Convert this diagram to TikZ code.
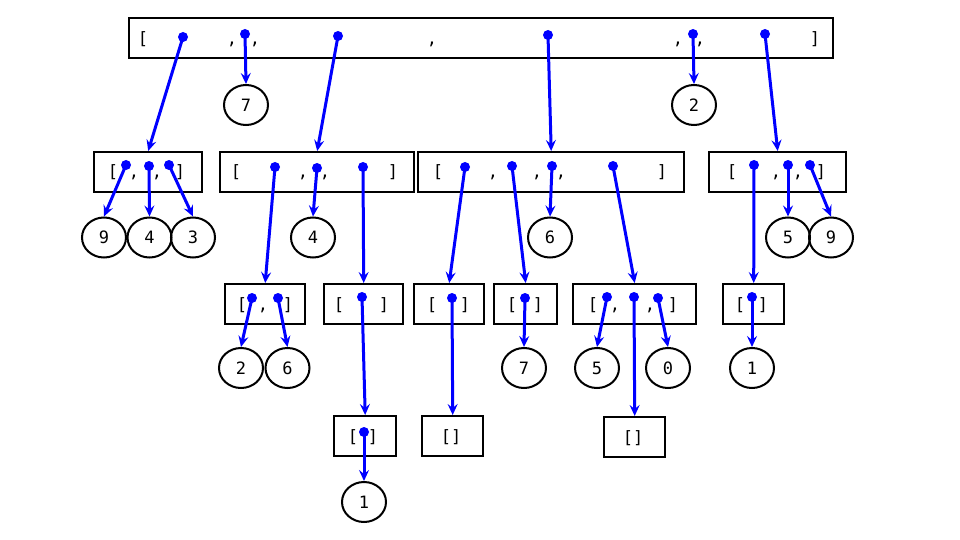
\documentclass[tikz,border=0pt]{standalone}
\usepackage{fontspec}
\setmonofont{DejaVu Sans Mono}
\usetikzlibrary{arrows.meta,shapes.geometric}
\begin{document}
\begin{tikzpicture}[x=1pt,y=-1pt,
  every node/.style={font=\ttfamily\fontsize{17}{20}\selectfont},
  cell/.style={draw=black,line width=2.4pt,inner sep=0pt,anchor=north west},
  glyph/.style={anchor=base,inner sep=0pt},
  leaf/.style={ellipse,draw=black,line width=2pt,inner sep=0pt,minimum width=44pt,minimum height=40pt},
  dot/.style={circle,fill=blue,inner sep=0pt,minimum size=10pt},
  ptr/.style={draw=blue,line width=3pt,-{Stealth[length=11pt,width=10pt,inset=4pt]}}]
\useasboundingbox (0,0) rectangle (960,540);

% ---------- outer list ----------
\node[cell,minimum width=704pt,minimum height=40pt] (top) at (128,17) {};
\node[glyph] (t0) at (143,45) {[};
\node[glyph] (t1) at (232,45) {,};
\node[glyph] (t2) at (255,45) {,};
\node[glyph] (t3) at (432,45) {,};
\node[glyph] (t4) at (678,45) {,};
\node[glyph] (t5) at (700,45) {,};
\node[glyph] (t6) at (815,45) {]};
\node[dot] (pa) at (183,37) {};
\node[dot] (pb) at (245,34) {};
\node[dot] (pc) at (338,36) {};
\node[dot] (pd) at (548,35) {};
\node[dot] (pe) at (693,34) {};
\node[dot] (pf) at (765,34) {};

\node[leaf] (v7) at (246,105) {7};
\node[leaf] (v2) at (694,105) {2};

% ---------- second level ----------
\node[cell,minimum width=108pt,minimum height=40pt] (A) at (93,151) {};
\node[glyph] at (113,178) {[};
\node[glyph] at (134,178) {,};
\node[glyph] at (157,178) {,};
\node[glyph] at (180,178) {]};
\node[dot] (a1) at (126,165) {};
\node[dot] (a2) at (149,166) {};
\node[dot] (a3) at (169,165) {};

\node[cell,minimum width=194pt,minimum height=40pt] (B) at (219,151) {};
\node[glyph] at (236,178) {[};
\node[glyph] at (303,178) {,};
\node[glyph] at (325,178) {,};
\node[glyph] at (393,178) {]};
\node[dot] (b1) at (275,167) {};
\node[dot] (b2) at (317,168) {};
\node[dot] (b3) at (363,167) {};

\node[cell,minimum width=266pt,minimum height=40pt] (C) at (417,151) {};
\node[glyph] at (438,178) {[};
\node[glyph] at (493,178) {,};
\node[glyph] at (537,178) {,};
\node[glyph] at (561,178) {,};
\node[glyph] at (662,178) {]};
\node[dot] (c1) at (465,167) {};
\node[dot] (c2) at (512,166) {};
\node[dot] (c3) at (552,166) {};
\node[dot] (c4) at (613,166) {};

\node[cell,minimum width=137pt,minimum height=40pt] (D) at (708,151) {};
\node[glyph] at (732,178) {[};
\node[glyph] at (776,178) {,};
\node[glyph] at (798,178) {,};
\node[glyph] at (821,178) {]};
\node[dot] (d1) at (754,165) {};
\node[dot] (d2) at (788,165) {};
\node[dot] (d3) at (810,165) {};

\node[leaf] (v9a) at (104,237.5) {9};
\node[leaf] (v4a) at (149.5,237.5) {4};
\node[leaf] (v3) at (193,237.5) {3};
\node[leaf] (v4b) at (313,237.5) {4};
\node[leaf] (v6a) at (550,237.5) {6};
\node[leaf] (v5a) at (788,237.5) {5};
\node[leaf] (v9b) at (831,237.5) {9};

% ---------- third level ----------
\node[cell,minimum width=80pt,minimum height=40pt] (E) at (224,283) {};
\node[glyph] at (242,310) {[};
\node[glyph] at (263,310) {,};
\node[glyph] at (288,310) {]};
\node[dot] (e1) at (252,298) {};
\node[dot] (e2) at (278,298) {};

\node[cell,minimum width=79pt,minimum height=40pt] (F) at (323,283) {};
\node[glyph] at (339,310) {[};
\node[glyph] at (384,310) {]};
\node[dot] (f1) at (362,297) {};

\node[cell,minimum width=70pt,minimum height=40pt] (G) at (413,283) {};
\node[glyph] at (432,310) {[};
\node[glyph] at (465,310) {]};
\node[dot] (g1) at (452,298) {};

\node[cell,minimum width=63pt,minimum height=40pt] (H) at (493,283) {};
\node[glyph] at (512,310) {[};
\node[glyph] at (538,310) {]};
\node[dot] (h1) at (525,298) {};

\node[cell,minimum width=123pt,minimum height=40pt] (K) at (572,283) {};
\node[glyph] at (593,310) {[};
\node[glyph] at (615,310) {,};
\node[glyph] at (650,310) {,};
\node[glyph] at (673,310) {]};
\node[dot] (k1) at (607,297) {};
\node[dot] (k2) at (634,297) {};
\node[dot] (k3) at (658,298) {};

\node[cell,minimum width=61pt,minimum height=40pt] (L) at (722,283) {};
\node[glyph] at (740,310) {[};
\node[glyph] at (763,310) {]};
\node[dot] (l1) at (752,297) {};

\node[leaf] (v2b) at (241,368) {2};
\node[leaf] (v6b) at (287.5,368) {6};
\node[leaf] (v7b) at (524,368) {7};
\node[leaf] (v5b) at (597,368) {5};
\node[leaf] (v0) at (668,368) {0};
\node[leaf] (v1a) at (752,368) {1};

% ---------- fourth level ----------
\node[cell,minimum width=62pt,minimum height=40pt] (M) at (333,415) {};
\node[glyph] at (353,442) {[};
\node[glyph] at (373,442) {]};
\node[dot] (m1) at (364,432) {};

\node[cell,minimum width=61pt,minimum height=40pt] (N) at (421,415) {};
\node[glyph] at (451,442) {[]};

\node[cell,minimum width=61pt,minimum height=40pt] (P) at (603,416) {};
\node[glyph] at (633,443) {[]};

\node[leaf] (v1b) at (364,502) {1};

% ---------- pointers ----------
\draw[ptr] (pa.center) -- (A.north);
\draw[ptr] (pb.center) -- (v7.north);
\draw[ptr] (pc.center) -- (B.north);
\draw[ptr] (pd.center) -- (C.north);
\draw[ptr] (pe.center) -- (v2.north);
\draw[ptr] (pf.center) -- (D.north);

\draw[ptr] (a1.center) -- (v9a.north);
\draw[ptr] (a2.center) -- (v4a.north);
\draw[ptr] (a3.center) -- (v3.north);
\draw[ptr] (b1.center) -- (E.north);
\draw[ptr] (b2.center) -- (v4b.north);
\draw[ptr] (b3.center) -- (F.north);
\draw[ptr] (c1.center) -- (G.north);
\draw[ptr] (c2.center) -- (H.north);
\draw[ptr] (c3.center) -- (v6a.north);
\draw[ptr] (c4.center) -- (K.north);
\draw[ptr] (d1.center) -- (L.north);
\draw[ptr] (d2.center) -- (v5a.north);
\draw[ptr] (d3.center) -- (v9b.north);

\draw[ptr] (e1.center) -- (v2b.north);
\draw[ptr] (e2.center) -- (v6b.north);
\draw[ptr] (f1.center) -- (M.north);
\draw[ptr] (g1.center) -- (N.north);
\draw[ptr] (h1.center) -- (v7b.north);
\draw[ptr] (k1.center) -- (v5b.north);
\draw[ptr] (k2.center) -- (P.north);
\draw[ptr] (k3.center) -- (v0.north);
\draw[ptr] (l1.center) -- (v1a.north);

\draw[ptr] (m1.center) -- (v1b.north);
\end{tikzpicture}
\end{document}
